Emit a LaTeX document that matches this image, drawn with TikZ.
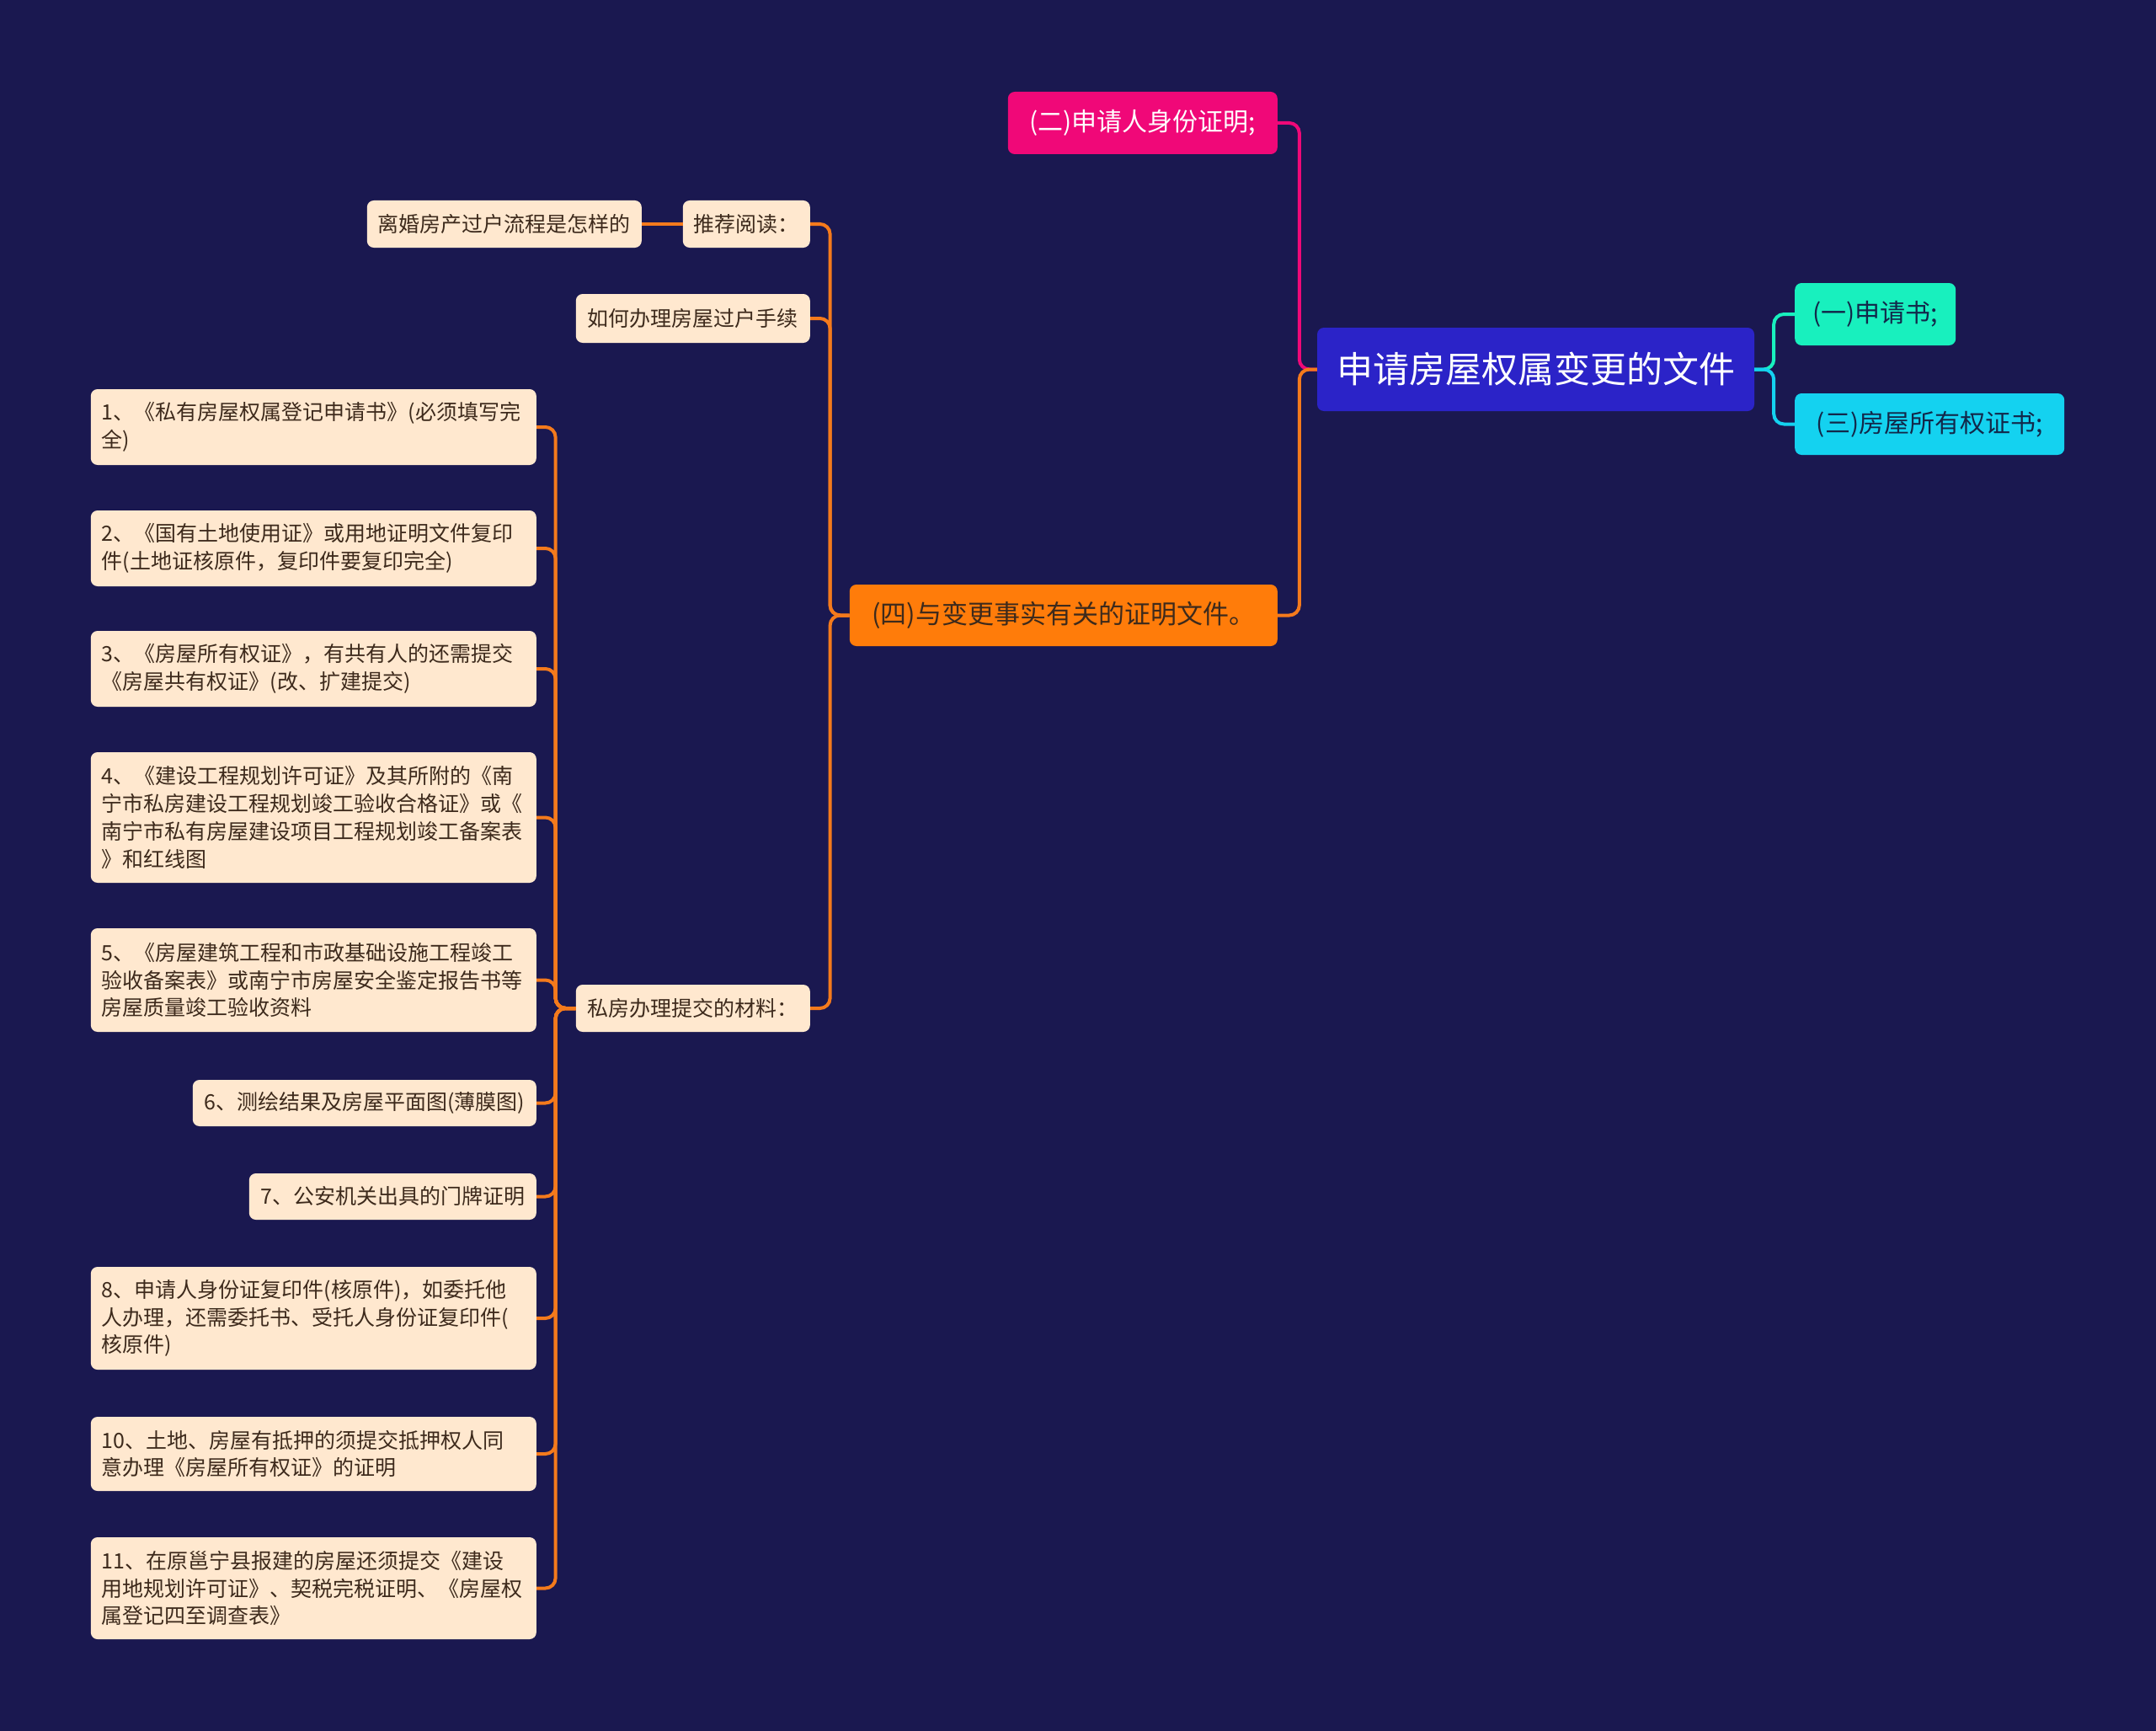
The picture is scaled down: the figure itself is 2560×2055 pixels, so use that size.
\documentclass[tikz,border=0pt]{standalone}
\usepackage{fontspec}
\setmainfont{Noto Sans CJK SC}
\definecolor{bg}{HTML}{1A1850}
\definecolor{rootc}{HTML}{2B23C8}
\definecolor{tealc}{HTML}{18F0BE}
\definecolor{cyanc}{HTML}{14D2F0}
\definecolor{pinkc}{HTML}{F00878}
\definecolor{orangec}{HTML}{FF7C0A}
\definecolor{linec}{HTML}{F47A1C}
\definecolor{peachc}{HTML}{FFE8CF}
\definecolor{brownt}{HTML}{3D2A1C}
\definecolor{navyt}{HTML}{12284A}
\tikzset{
  box/.style={rounded corners=8pt, inner sep=0pt},
  peach/.style={box, fill=peachc, text=brownt, font=\fontsize{25}{32.7}\selectfont},
  item/.style={peach, text width=503pt, inner xsep=13pt, align=left, anchor=east},
  small/.style={peach, anchor=east},
  rootbox/.style={box, fill=rootc, text=white, minimum width=519pt, minimum height=99pt, font=\fontsize{43}{50}\selectfont},
  mid/.style={box, font=\fontsize{30}{36}\selectfont},
  conn/.style={line width=4pt, rounded corners=12pt},
}
\begin{document}
\begin{tikzpicture}[x=1pt,y=-1pt]
\fill[bg] (0,0) rectangle (2560,2055);
\useasboundingbox (0,0) rectangle (2560,2055);

% main nodes
\node[rootbox] (root) at (1823.5,438.5) {申请房屋权属变更的文件};
\node[mid, fill=tealc, text=navyt, anchor=west, minimum width=191pt, minimum height=74pt] (a1) at (2131,373) {(一)申请书;};
\node[mid, fill=cyanc, text=navyt, anchor=west, minimum width=320pt, minimum height=73pt] (a3) at (2131,503.5) {(三)房屋所有权证书;};
\node[mid, fill=pinkc, text=white, anchor=east, minimum width=320pt, minimum height=74pt] (a2) at (1517,146) {(二)申请人身份证明;};
\node[mid, fill=orangec, text=brownt, anchor=east, minimum width=508pt, minimum height=73pt, font=\fontsize{31}{36}\selectfont] (a4) at (1517,730.5) {(四)与变更事实有关的证明文件。};

% second level
\node[small, minimum width=151pt, minimum height=56pt] (rec) at (962,266) {推荐阅读：};
\node[small, minimum width=326pt, minimum height=56pt] (lh) at (762,266) {离婚房产过户流程是怎样的};
\node[small, minimum width=278pt, minimum height=58pt] (rh) at (962,378) {如何办理房屋过户手续};
\node[small, minimum width=278pt, minimum height=56pt] (sf) at (962,1197) {私房办理提交的材料：};

% items
\node[item, minimum height=90pt] (i1) at (637,507) {1、《私有房屋权属登记申请书》(必须填写完\\全)};
\node[item, minimum height=90pt] (i2) at (637,651) {2、《国有土地使用证》或用地证明文件复印\\件(土地证核原件，复印件要复印完全)};
\node[item, minimum height=90pt] (i3) at (637,794) {3、《房屋所有权证》，有共有人的还需提交\\《房屋共有权证》(改、扩建提交)};
\node[item, minimum height=155pt] (i4) at (637,970.5) {4、《建设工程规划许可证》及其所附的《南\\宁市私房建设工程规划竣工验收合格证》或《\\南宁市私有房屋建设项目工程规划竣工备案表\\》和红线图};
\node[item, minimum height=123pt] (i5) at (637,1163.5) {5、《房屋建筑工程和市政基础设施工程竣工\\验收备案表》或南宁市房屋安全鉴定报告书等\\房屋质量竣工验收资料};
\node[small, minimum width=408pt, minimum height=55pt] (i6) at (637,1309.5) {6、测绘结果及房屋平面图(薄膜图)};
\node[small, minimum width=341pt, minimum height=55pt] (i7) at (637,1420.5) {7、公安机关出具的门牌证明};
\node[item, minimum height=122pt] (i8) at (637,1565) {8、申请人身份证复印件(核原件)，如委托他\\人办理，还需委托书、受托人身份证复印件(\\核原件)};
\node[item, minimum height=88pt] (i10) at (637,1726) {10、土地、房屋有抵押的须提交抵押权人同\\意办理《房屋所有权证》的证明};
\node[item, minimum height=121pt] (i11) at (637,1885.5) {11、在原邕宁县报建的房屋还须提交《建设\\用地规划许可证》、契税完税证明、《房屋权\\属登记四至调查表》};

% connectors
\draw[conn, draw=pinkc] (root.west) -- ++(-21,0) |- (a2.east);
\draw[conn, draw=linec] (root.west) -- ++(-21,0) |- (a4.east);
\draw[conn, draw=tealc] (root.east) -- ++(23,0) |- (a1.west);
\draw[conn, draw=cyanc] (root.east) -- ++(23,0) |- (a3.west);
\foreach \t in {rec,rh,sf} \draw[conn, draw=linec] (a4.west) -- ++(-23,0) |- (\t.east);
\draw[conn, draw=linec] (rec.west) -- (lh.east);
\foreach \t in {i1,i2,i3,i4,i5,i6,i7,i8,i10,i11} \draw[conn, draw=linec] (sf.west) -- ++(-24,0) |- (\t.east);
\end{tikzpicture}
\end{document}
